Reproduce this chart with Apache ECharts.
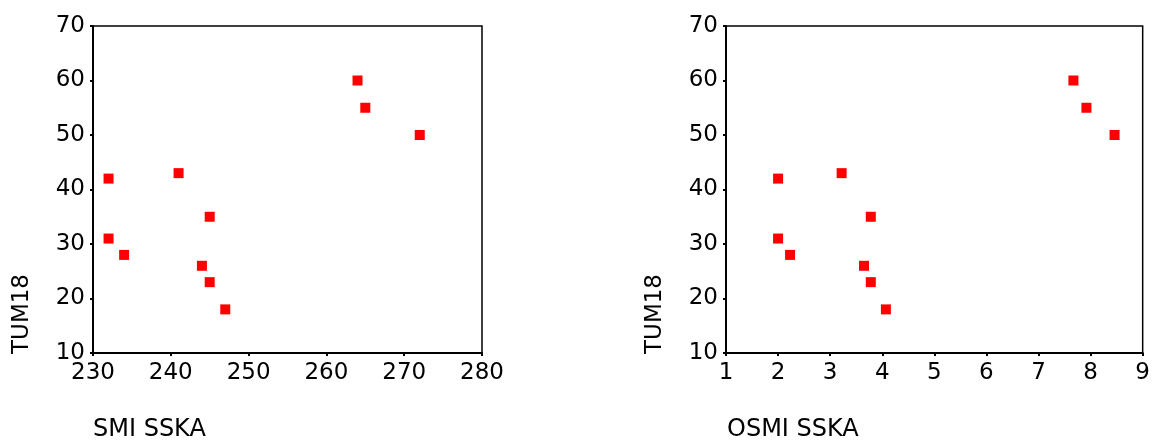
<!DOCTYPE html>
<html><head><meta charset="utf-8">
<script src="https://cdn.jsdelivr.net/npm/echarts@6/dist/echarts.min.js"></script>
<style>html,body{margin:0;padding:0;background:#fff}#c{width:1153px;height:442px}</style>
</head><body><div id="c"></div>
<script>
const tum18 = [60, 55, 50, 42, 43, 35, 31, 28, 26, 23, 18];
const smisska = [264, 265, 272, 232, 241, 245, 232, 234, 244, 245, 247];
const osmisska = [7.67, 7.92, 8.46, 2.0, 3.22, 3.78, 2.0, 2.23, 3.65, 3.78, 4.07];
const yTitle = 'TUM18';
const xTitles = ['SMI SSKA', 'OSMI SSKA'];

const FONT = 'DejaVu Sans';
const chart = echarts.init(document.getElementById('c'), null, {renderer: 'canvas'});
function pairs(xs, ys) { return xs.map((x, i) => [x, ys[i]]); }
const axisCommon = {
  axisLine: {show: true, lineStyle: {color: '#000', width: 2}},
  axisTick: {show: true, length: 3, lineStyle: {color: '#000', width: 2}},
  splitLine: {show: false},
  axisLabel: {color: '#000', fontFamily: FONT, fontSize: 23}
};
chart.setOption({
  animation: false,
  grid: [
    {left: 93, top: 26, width: 389, height: 327, show: true, borderColor: '#000', borderWidth: 1.5, backgroundColor: '#fff'},
    {left: 726, top: 26, width: 419, height: 327, show: true, borderColor: '#000', borderWidth: 1.5, backgroundColor: '#fff'}
  ],
  xAxis: [
    Object.assign({}, axisCommon, {gridIndex: 0, type: 'value', min: 230, max: 280, interval: 10,
      axisLabel: Object.assign({}, axisCommon.axisLabel, {margin: 9})}),
    Object.assign({}, axisCommon, {gridIndex: 1, type: 'value', min: 1, max: 9, interval: 1,
      axisLabel: Object.assign({}, axisCommon.axisLabel, {margin: 9})})
  ],
  yAxis: [
    Object.assign({}, axisCommon, {gridIndex: 0, type: 'value', min: 10, max: 70, interval: 10,
      axisLabel: Object.assign({}, axisCommon.axisLabel, {margin: 8})}),
    Object.assign({}, axisCommon, {gridIndex: 1, type: 'value', min: 10, max: 70, interval: 10,
      axisLabel: Object.assign({}, axisCommon.axisLabel, {margin: 8})})
  ],
  series: [
    {type: 'scatter', xAxisIndex: 0, yAxisIndex: 0, symbol: 'rect', symbolSize: 10,
      itemStyle: {color: '#ff0000', opacity: 1}, data: pairs(smisska, tum18)},
    {type: 'scatter', xAxisIndex: 1, yAxisIndex: 1, symbol: 'rect', symbolSize: 10,
      itemStyle: {color: '#ff0000', opacity: 1}, data: pairs(osmisska, tum18)}
  ],
  graphic: [
    {type: 'text', x: 22, y: 354, rotation: Math.PI / 2,
      style: {text: yTitle, font: '23px ' + FONT, fill: '#000', textAlign: 'left', textVerticalAlign: 'middle'}},
    {type: 'text', x: 655, y: 354, rotation: Math.PI / 2,
      style: {text: yTitle, font: '23px ' + FONT, fill: '#000', textAlign: 'left', textVerticalAlign: 'middle'}},
    {type: 'text', x: 93, y: 430,
      style: {text: xTitles[0], font: '24px ' + FONT, fill: '#000', textAlign: 'left', textVerticalAlign: 'middle'}},
    {type: 'text', x: 727, y: 430,
      style: {text: xTitles[1], font: '24px ' + FONT, fill: '#000', textAlign: 'left', textVerticalAlign: 'middle'}}
  ]
});
</script></body></html>
